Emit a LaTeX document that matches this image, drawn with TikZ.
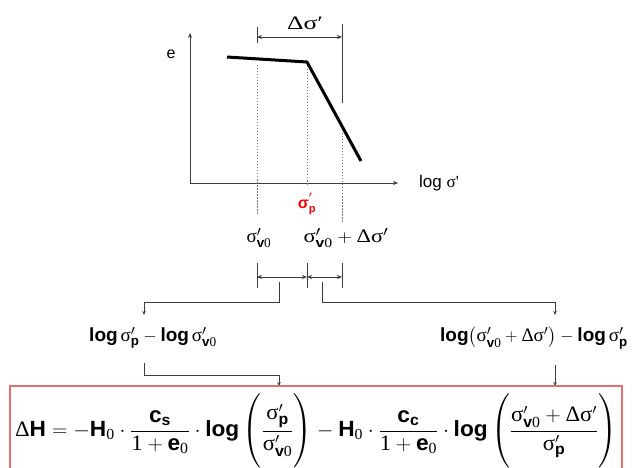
\documentclass[tikz,border=0pt]{standalone}
\usepackage{amsmath}
\usepackage{fontspec}
\setmainfont{Liberation Sans}
\newfontfamily\serf{Liberation Serif}
\usetikzlibrary{arrows.meta}
\newcommand\sgm{\text{\serf σ}}
\newcommand\Dl{\text{\serf Δ}}
\newcommand\bt[1]{\text{\bfseries #1}}
\newcommand\zr{\text{\serf 0}}
\newcommand\sgs[1]{\sgm'_{\bt{#1}}}
\newcommand\sgz{\sgm'_{\bt{v}\zr}}
\newcommand\tallstrut{\vrule height 42pt depth 30pt width 0pt}
\definecolor{boxred}{RGB}{228,110,110}
\definecolor{ln}{RGB}{60,60,60}
\tikzset{
  ax/.style={draw=ln, line width=0.8pt, -{Stealth[length=5pt,width=4pt]}},
  dots/.style={draw=ln!70, line width=0.8pt, dash pattern=on 1.5pt off 1.5pt},
  dim/.style={draw=ln, line width=0.8pt, {Stealth[length=5pt,width=4pt]}-{Stealth[length=5pt,width=4pt]}},
  tick/.style={draw=ln, line width=1pt},
  conn/.style={draw=ln, line width=0.8pt, -{Stealth[length=4pt,width=3.5pt]}},
  lbl/.style={inner sep=0pt, font=\fontsize{16}{18}\selectfont},
  mid/.style={inner sep=0pt, font=\fontsize{19}{22}\selectfont},
}
\begin{document}
\begin{tikzpicture}[x=1pt,y=-1pt]
\useasboundingbox (0,0) rectangle (635,468);
% axes
\coordinate (O) at (190,183);
\coordinate (Ytop) at (190,33);
\coordinate (Xend) at (398,183);
\draw[ax] (O) -- (Ytop);
\draw[ax] (O) -- (Xend);
\node[lbl] (elab) at (171,54) {e};
\node[lbl, anchor=west, font=\fontsize{17}{20}\selectfont] (xlab) at (419,183) {log \serf σ'};
% curve
\coordinate (c1) at (227,57);
\coordinate (c2) at (307,62);
\coordinate (c3) at (361,161);
\draw[line width=3pt, line join=round] (c1) -- (c2) -- (c3);
% dotted lines
\coordinate (d1t) at (257,65); \coordinate (d1b) at (257,215);
\coordinate (d2t) at (307,66); \coordinate (d2b) at (307,186);
\coordinate (d3t) at (342,130); \coordinate (d3b) at (342,222);
\draw[dots] (d1t) -- (d1b);
\draw[dots] (d2t) -- (d2b);
\draw[dots] (d3t) -- (d3b);
% top dimension
\coordinate (t1a) at (257,27); \coordinate (t1b) at (257,43);
\coordinate (t2a) at (342,24); \coordinate (t2b) at (342,103);
\draw[tick] (t1a) -- (t1b);
\draw[tick] (t2a) -- (t2b);
\coordinate (ta) at (257,37); \coordinate (tb) at (342,37);
\draw[dim] (ta) -- (tb);
\node[inner sep=0pt, font=\fontsize{19}{21}\selectfont\serf] (dlab) at (305,23) {\scalebox{1.35}[1]{Δσ′}};
% labels under axis
\node[inner sep=0pt, text=red, font=\fontsize{16}{18}\selectfont\bfseries] (sp) at (307,204) {σ$^{\boldsymbol{'}}_{\text{p}}$};
\node[inner sep=0pt, font=\fontsize{19}{22}\selectfont] (s0) at (259,238) {$\sgz$};
\node[inner sep=0pt, font=\fontsize{19}{22}\selectfont] (s1) at (346,238) {\scalebox{1.18}[1]{$\sgz + \Dl\sgm'$}};
% lower dimension bar
\coordinate (b1a) at (257,263); \coordinate (b1b) at (257,288);
\coordinate (b2a) at (307,263); \coordinate (b2b) at (307,288);
\coordinate (b3a) at (342,263); \coordinate (b3b) at (342,288);
\draw[tick] (b1a) -- (b1b);
\draw[tick] (b2a) -- (b2b);
\draw[tick] (b3a) -- (b3b);
\coordinate (m1) at (257,277); \coordinate (m2) at (307,277); \coordinate (m3) at (342,277);
\draw[dim] (m1) -- (m2);
\draw[dim] (m2) -- (m3);
% middle texts
\node[mid] (tl) at (153,338) {$\bt{log}\,\sgs{p} - \bt{log}\,\sgz$};
\node[mid, anchor=west] (tr) at (440,338) {$\bt{log}\bigl(\sgz + \Dl\sgm'\bigr) - \bt{log}\,\sgs{p}$};
% connectors
\coordinate (ul) at (279,282); \coordinate (ulc) at (279,302); \coordinate (ulc2) at (144,302); \coordinate (ule) at (144,315);
\draw[conn] (ul) -- (ulc) -- (ulc2) -- (ule);
\coordinate (ur) at (322,282); \coordinate (urc) at (322,302); \coordinate (urc2) at (555,302); \coordinate (ure) at (555,315);
\draw[conn] (ur) -- (urc) -- (urc2) -- (ure);
\coordinate (ll) at (144,363); \coordinate (llc) at (144,375); \coordinate (llc2) at (279,375); \coordinate (lle) at (279,386);
\draw[conn] (ll) -- (llc) -- (llc2) -- (lle);
\coordinate (lr) at (555,365); \coordinate (lre) at (555,386);
\draw[conn] (lr) -- (lre);
% formula box
\draw[boxred, line width=1.2pt] (10,386) rectangle (622,472);
\node[inner sep=0pt, font=\fontsize{22}{26}\selectfont] (form) at (316,431)
{\scalebox{1.03}[1]{$\Dl\bt{H} = -\bt{H}_{\zr}\cdot\dfrac{\bt{c}_{\bt{s}}}{\text{\serf 1}+\bt{e}_{\zr}}\cdot\bt{log}\left(\tallstrut\dfrac{\sgs{p}}{\sgz}\right) - \bt{H}_{\zr}\cdot\dfrac{\bt{c}_{\bt{c}}}{\text{\serf 1}+\bt{e}_{\zr}}\cdot\bt{log}\left(\tallstrut\dfrac{\sgz+\Dl\sgm'}{\sgs{p}}\right)$}};
\end{tikzpicture}
\end{document}
